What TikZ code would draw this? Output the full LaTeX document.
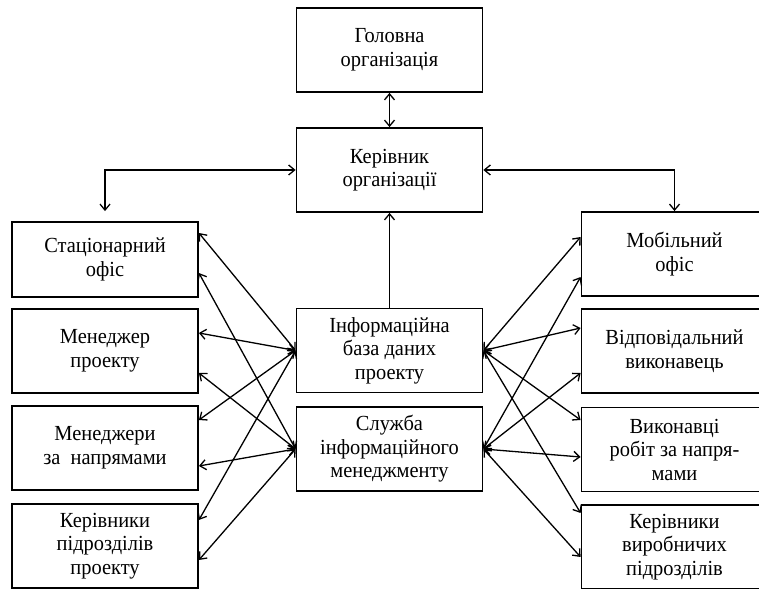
\documentclass[tikz,border=0pt]{standalone}
\usepackage{fontspec}
\setmainfont{Liberation Serif}[FakeStretch=0.95]
\usetikzlibrary{arrows.meta}

\begin{document}
\begin{tikzpicture}
[x=1pt,y=1pt,%
  box/.style={draw,line width=1.8pt,rectangle,align=center,%
    minimum width=186pt,minimum height=84pt,inner sep=0pt,%
    font=\fontsize{21.5}{23.5}\selectfont},%
  link/.style={{Straight Barb[length=6pt,width=10pt]}-{Straight Barb[length=6pt,width=10pt]},line width=1.3pt},%
  uplink/.style={-{Straight Barb[length=6pt,width=10pt]},line width=1.3pt}]
\useasboundingbox (0,0) rectangle (759,588);
\clip (0,0) rectangle (759,588);
% centre column
\node[box] (head) at (389.5,538) {Головна\\організація};
\node[box] (chief) at (389.5,418) {Керівник\\організації};
\node[box] (base) at (389.5,237.5) {Інформаційна\\база даних\\проекту};
\node[box] (serv) at (389.5,139) {Служба\\інформаційного\\менеджменту};
% left column
\node[box,minimum height=75pt] (stat) at (105,328.5) {Стаціонарний\\офіс};
\node[box] (mgr) at (105,237) {Менеджер\\проекту};
\node[box] (mgrs) at (105,140) {Менеджери\\за\ \ напрямами};
\node[box] (subs) at (105,42) {Керівники\\підрозділів\\проекту};
% right column
\node[box] (mob) at (674.5,334) {Мобільний\\офіс};
\node[box] (resp) at (674.5,237) {Відповідальний\\виконавець};
\node[box] (exec) at (674.5,138.5) {Виконавці\\робіт за напря-\\мами};
\node[box] (prod) at (674.5,41) {Керівники\\виробничих\\підрозділів};
% top links
\draw[link] (head.south) -- (chief.north);
\draw[link,shorten >=10pt] (chief.west) -| (stat.north);
\draw[link] (chief.east) -| (mob.north);
\draw[uplink] (base.north) -- (chief.south);
% left links
\draw[link] ([yshift=26.5pt]stat.east) -- (base.west);
\draw[link] ([yshift=-13.5pt]stat.east) -- (serv.west);
\draw[link] ([yshift=18pt]mgr.east) -- (base.west);
\draw[link] ([yshift=-22pt]mgr.east) -- (serv.west);
\draw[link] ([yshift=28pt]mgrs.east) -- (base.west);
\draw[link] ([yshift=-18pt]mgrs.east) -- (serv.west);
\draw[link] ([yshift=26pt]subs.east) -- (base.west);
\draw[link] ([yshift=-14pt]subs.east) -- (serv.west);
% right links
\draw[link] (base.east) -- ([yshift=17pt]mob.west);
\draw[link] (serv.east) -- ([yshift=-23pt]mob.west);
\draw[link] (base.east) -- ([yshift=23pt]resp.west);
\draw[link] (serv.east) -- ([yshift=-22pt]resp.west);
\draw[link] (base.east) -- ([yshift=29.5pt]exec.west);
\draw[link] (serv.east) -- ([yshift=-7.5pt]exec.west);
\draw[link] (base.east) -- ([yshift=34pt]prod.west);
\draw[link] (serv.east) -- ([yshift=-10pt]prod.west);
\end{tikzpicture}
\end{document}
